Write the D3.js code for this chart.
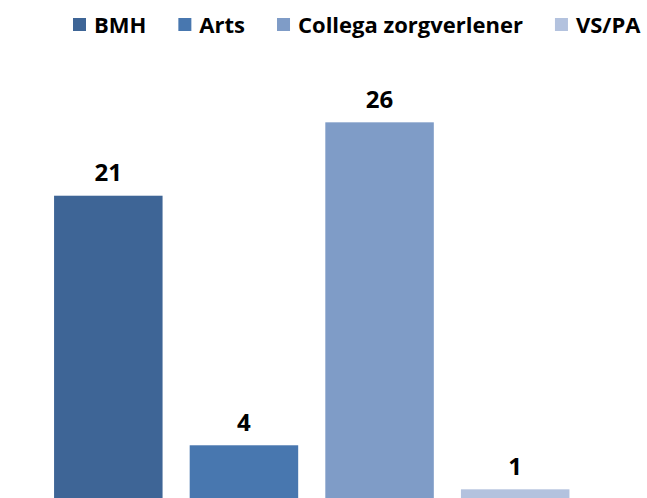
<!doctype html>
<html lang='nl'>
<head>
    <meta charset='UTF-8'>
    <title>Chart</title>
    <style>
        body,html{
            margin: 0;
            padding: 0;
            background: #fff;
        }
        svg text{
            font-family: 'Open Sans', 'Lato', sans-serif;
            font-weight: bold;
            fill: #000;
        }
        .bar-label{
            text-anchor: middle;
            font-size: 24px;
        }
        .legend-label{
            font-size: 22px;
        }
    </style>
</head>
<body>
<script src='https://d3js.org/d3.v7.min.js'></script>
<script>
  const categories = ['BMH', 'Arts', 'Collega zorgverlener', 'VS/PA']
  const values = [21, 4, 26, 1]
  const colors = ['#3E6596', '#4877AF', '#7F9CC7', '#B3C2DE']

  const w = 647
  const h = 498

  const svg = d3.select('body').append('svg')
    .attr('width', w)
    .attr('height', h)

  // x scale - one band per category
  const x = d3.scaleBand()
    .domain(categories)
    .range([40.5, 583])
    .paddingInner(0.2)
    .paddingOuter(0.1)

  // y scale - axis runs to 30, baseline sits just below the picture
  const y = d3.scaleLinear()
    .domain([0, 30])
    .range([504, 63.6])

  const color = d3.scaleOrdinal()
    .domain(categories)
    .range(colors)

  const data = categories.map((c, i) => ({key: c, value: values[i]}))

  // bars
  svg.append('g')
    .selectAll('rect')
    .data(data)
    .enter()
    .append('rect')
    .attr('x', d => x(d.key))
    .attr('y', d => y(d.value))
    .attr('width', x.bandwidth())
    .attr('height', d => y(0) - y(d.value))
    .style('fill', d => color(d.key))

  // value labels
  svg.append('g')
    .selectAll('text')
    .data(data)
    .enter()
    .append('text')
    .classed('bar-label', true)
    .attr('x', d => x(d.key) + x.bandwidth() / 2)
    .attr('y', d => y(d.value) - 14.5)
    .text(d => d.value)

  // legend
  const legend = svg.append('g')
    .attr('transform', 'translate(73, 0)')

  let lx = 0
  categories.forEach(c => {
    const item = legend.append('g')
      .attr('transform', `translate(${lx}, 0)`)
    item.append('rect')
      .attr('x', 0)
      .attr('y', 18)
      .attr('width', 13)
      .attr('height', 13)
      .style('fill', color(c))
    const t = item.append('text')
      .classed('legend-label', true)
      .attr('x', 21)
      .attr('y', 32.5)
      .text(c)
    lx += 21 + t.node().getComputedTextLength() + 32
  })
</script>
</body>
</html>
